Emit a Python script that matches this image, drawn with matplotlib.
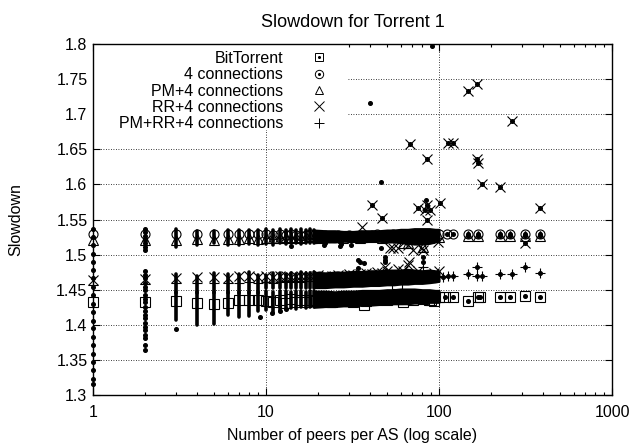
import numpy as np
import matplotlib.pyplot as plt
from matplotlib.lines import Line2D
from matplotlib.patches import Rectangle
from matplotlib.ticker import FixedLocator, FixedFormatter, LogLocator, NullFormatter

plt.rcParams['font.family'] = ['Liberation Sans', 'DejaVu Sans']

# ---- per-AS samples (small dots) ----
# ASes with 1 peer
x1_samples = [1.537, 1.525, 1.513, 1.501, 1.490, 1.478, 1.466, 1.454, 1.442, 1.430,
              1.418, 1.406, 1.395, 1.383, 1.371, 1.359, 1.347, 1.335, 1.323, 1.316]
# ASes with 2 peers
x2_samples = [1.537, 1.532, 1.527, 1.521, 1.516, 1.511, 1.506,
              1.477, 1.471, 1.466, 1.460, 1.454, 1.449, 1.443, 1.437, 1.432, 1.426,
              1.420, 1.414, 1.409, 1.403, 1.397, 1.392, 1.386, 1.381, 1.371, 1.364]

# spread of samples per column, 3..19 peers
col_x = [3, 4, 5, 6, 7, 8, 9, 10, 11, 12, 13, 14, 15, 16, 17, 18, 19]
conn_hi = [1.537, 1.533, 1.533, 1.535, 1.535, 1.535, 1.535, 1.536, 1.535, 1.536, 1.535, 1.536, 1.535, 1.536, 1.535, 1.536, 1.535]
conn_lo = [1.511, 1.514, 1.517, 1.514, 1.513, 1.515, 1.513, 1.515, 1.514, 1.516, 1.515, 1.516, 1.517, 1.515, 1.516, 1.517, 1.516]
rr_hi = [1.473, 1.470, 1.474, 1.472, 1.473, 1.475, 1.471, 1.471, 1.474, 1.474, 1.473, 1.474, 1.473, 1.475, 1.474, 1.474, 1.475]
rr_lo = [1.445, 1.445, 1.445, 1.445, 1.445, 1.445, 1.445, 1.452, 1.452, 1.453, 1.452, 1.453, 1.452, 1.453, 1.453, 1.452, 1.453]
bt_hi = [1.447, 1.447, 1.447, 1.447, 1.447, 1.447, 1.447, 1.448, 1.447, 1.448, 1.448, 1.447, 1.448, 1.448, 1.447, 1.448, 1.448]
bt_lo = [1.407, 1.400, 1.401, 1.414, 1.411, 1.413, 1.419, 1.421, 1.417, 1.419, 1.422, 1.424, 1.423, 1.425, 1.424, 1.426, 1.425]

# spread of samples as bands, 19..100 peers
band_x = [19, 22, 25, 28, 32, 36, 40, 45, 50, 55, 60, 66, 72, 80, 88, 95, 100]
conn_band_hi = [1.535, 1.534, 1.534, 1.533, 1.533, 1.534, 1.534, 1.534, 1.535, 1.535, 1.536, 1.536, 1.537, 1.537, 1.537, 1.536, 1.536]
conn_band_lo = [1.517, 1.518, 1.518, 1.519, 1.519, 1.518, 1.519, 1.519, 1.518, 1.518, 1.517, 1.516, 1.515, 1.515, 1.516, 1.518, 1.520]
rr_band_hi = [1.475, 1.474, 1.475, 1.475, 1.476, 1.476, 1.477, 1.477, 1.478, 1.478, 1.478, 1.479, 1.478, 1.477, 1.478, 1.477, 1.476]
rr_band_lo = [1.453, 1.453, 1.454, 1.454, 1.455, 1.455, 1.456, 1.456, 1.457, 1.457, 1.458, 1.458, 1.459, 1.459, 1.460, 1.461, 1.462]
bt_band_hi = [1.448, 1.448, 1.447, 1.448, 1.448, 1.449, 1.449, 1.449, 1.450, 1.450, 1.451, 1.451, 1.451, 1.450, 1.450, 1.449, 1.449]
bt_band_lo = [1.425, 1.426, 1.426, 1.427, 1.427, 1.428, 1.428, 1.429, 1.429, 1.430, 1.430, 1.430, 1.431, 1.431, 1.432, 1.432, 1.432]

# isolated samples
odd_x = [3, 9.2, 10.8, 12.1, 13.1, 14, 21.5, 22, 26.8, 27, 31, 31, 34, 35, 34, 37,
         40, 46, 46, 48.6, 48.6, 49, 81, 81, 84, 91]
odd_y = [1.394, 1.411, 1.417, 1.419, 1.422, 1.512, 1.513, 1.516, 1.512, 1.515, 1.522, 1.513, 1.493, 1.490, 1.481, 1.488,
         1.716, 1.604, 1.509, 1.497, 1.490, 1.492, 1.497, 1.490, 1.578, 1.797]

# ---- mean slowdown per series ----
mx = [1, 2, 3, 4, 5, 6, 7, 8, 9, 10, 11, 12, 13, 14, 15, 16, 17, 18, 19, 20, 22, 24, 26, 28, 30,
      32, 35, 38, 41, 44, 47, 50, 54, 58, 62, 66, 71, 76, 81, 87, 93, 100]

bt_x = mx + [37, 57, 90, 108, 121, 148, 168, 172, 225, 257, 314, 384]
bt_y = [1.433, 1.433, 1.434, 1.431, 1.429, 1.431, 1.435, 1.435, 1.435, 1.434, 1.432, 1.436, 1.431, 1.437,
        1.433, 1.435, 1.432, 1.436, 1.434, 1.433, 1.437, 1.432, 1.436, 1.434, 1.437, 1.433, 1.436, 1.434,
        1.438, 1.435, 1.437, 1.436, 1.439, 1.437, 1.433, 1.438, 1.436, 1.440, 1.437, 1.436, 1.434, 1.439,
        1.428, 1.458, 1.435, 1.440, 1.440, 1.434, 1.440, 1.440, 1.439, 1.439, 1.441, 1.439]

c4_x = mx + [111, 121, 148, 168, 225, 257, 314, 384]
c4_y = [1.530, 1.530, 1.530, 1.529, 1.530, 1.529, 1.530, 1.529, 1.530, 1.529, 1.528, 1.529, 1.528, 1.529,
        1.528, 1.527, 1.528, 1.529, 1.528, 1.527, 1.528, 1.527, 1.528, 1.527, 1.528, 1.527, 1.528, 1.527,
        1.528, 1.529, 1.527, 1.528, 1.529, 1.528, 1.530, 1.529, 1.528, 1.530, 1.529, 1.528, 1.530, 1.529,
        1.530, 1.530, 1.530, 1.530, 1.530, 1.530, 1.530, 1.530]

pm_x = mx + [62, 148, 168, 225, 257, 314, 384]
pm_y = [1.521, 1.521, 1.521, 1.522, 1.521, 1.522, 1.522, 1.523, 1.522, 1.524, 1.523, 1.524, 1.525, 1.524,
        1.525, 1.524, 1.525, 1.526, 1.525, 1.524, 1.525, 1.526, 1.525, 1.524, 1.526, 1.525, 1.524, 1.526,
        1.525, 1.526, 1.524, 1.525, 1.526, 1.525, 1.524, 1.517, 1.526, 1.525, 1.511, 1.524, 1.526, 1.525,
        1.516, 1.527, 1.527, 1.527, 1.527, 1.527, 1.527]

rr_x = mx + [36, 41, 47, 49, 52, 58, 67, 68, 76, 83, 85, 85, 85, 89, 101, 99, 66, 80,
             113, 120, 148, 165, 166, 168, 177, 225, 263, 314, 384]
rr_y = [1.464, 1.465, 1.466, 1.468, 1.468, 1.467, 1.469, 1.469, 1.468, 1.469, 1.468, 1.470, 1.469, 1.468,
        1.470, 1.469, 1.470, 1.469, 1.470, 1.471, 1.470, 1.469, 1.471, 1.470, 1.472, 1.471, 1.472, 1.474,
        1.473, 1.475, 1.474, 1.476, 1.509, 1.480, 1.477, 1.485, 1.506, 1.476, 1.507, 1.471, 1.474, 1.476,
        1.540, 1.571, 1.552, 1.483, 1.509, 1.509, 1.490, 1.657, 1.566, 1.564, 1.636, 1.571, 1.550, 1.563,
        1.573, 1.518, 1.514, 1.509, 1.659, 1.659, 1.733, 1.743, 1.636, 1.630, 1.600, 1.596, 1.690, 1.517, 1.566]

pmrr_x = mx + [105, 113, 120, 148, 166, 166, 177, 225, 263, 314, 384]
pmrr_y = [1.457, 1.458, 1.459, 1.459, 1.460, 1.459, 1.460, 1.461, 1.460, 1.461, 1.460, 1.461, 1.462, 1.461,
          1.462, 1.461, 1.462, 1.463, 1.462, 1.463, 1.462, 1.463, 1.464, 1.463, 1.464, 1.463, 1.465, 1.464,
          1.465, 1.466, 1.465, 1.466, 1.467, 1.466, 1.467, 1.468, 1.467, 1.468, 1.483, 1.468, 1.469, 1.470,
          1.468, 1.470, 1.470, 1.472, 1.483, 1.470, 1.470, 1.473, 1.473, 1.483, 1.474]

fig = plt.figure(figsize=(6.33, 4.45), dpi=100)
ax = fig.add_axes([93 / 633, 1 - 395 / 445, 519 / 633, 351 / 445])

mk = dict(ls='none', color='k', mfc='none', mew=0.8, zorder=3, clip_on=False)
ax.plot(bt_x, bt_y, marker='s', ms=6.5, **mk)
ax.plot(c4_x, c4_y, marker='o', ms=6.5, **mk)
ax.plot(pm_x, pm_y, marker='^', ms=6.5, **mk)
ax.plot(rr_x, rr_y, marker='x', ms=7, **mk)
ax.plot(pmrr_x, pmrr_y, marker='+', ms=7.5, **mk)

dot = dict(ls='none', marker='o', ms=2.6, color='k', zorder=4, clip_on=False)
ax.plot([1] * len(x1_samples), x1_samples, **dot)
ax.plot([2] * len(x2_samples), x2_samples, **dot)
ax.plot(odd_x, odd_y, **dot)
# ASes that are the only one of their size: sample sits on the mean marker
for xs, ys in [(bt_x, bt_y), (c4_x, c4_y), (pm_x, pm_y), (rr_x, rr_y), (pmrr_x, pmrr_y)]:
    xs, ys = np.array(xs), np.array(ys)
    one = (xs > 100) | (ys > 1.545)
    ax.plot(xs[one], ys[one], **dot)

for lo, hi in [(conn_lo, conn_hi), (rr_lo, rr_hi), (bt_lo, bt_hi)]:
    ax.vlines(col_x, lo, hi, color='k', lw=2.6, capstyle='round', zorder=4)
for lo, hi in [(conn_band_lo, conn_band_hi), (rr_band_lo, rr_band_hi), (bt_band_lo, bt_band_hi)]:
    ax.fill_between(band_x, lo, hi, color='k', lw=1.5, zorder=4)

ax.set_xscale('log')
ax.set_xlim(1, 1000)
ax.set_ylim(1.3, 1.8)
ax.xaxis.set_major_locator(FixedLocator([1, 10, 100, 1000]))
ax.xaxis.set_major_formatter(FixedFormatter(['1', '10', '100', '1000']))
ax.xaxis.set_minor_locator(LogLocator(base=10, subs=range(2, 10)))
ax.xaxis.set_minor_formatter(NullFormatter())
yt = [1.3, 1.35, 1.4, 1.45, 1.5, 1.55, 1.6, 1.65, 1.7, 1.75, 1.8]
ax.yaxis.set_major_locator(FixedLocator(yt))
ax.yaxis.set_major_formatter(FixedFormatter(['%g' % v for v in yt]))
ax.tick_params(which='both', direction='in', top=True, right=True, labelsize=11.5, width=0.8)
ax.tick_params(which='major', length=5)
ax.tick_params(which='minor', length=2.5)
ax.tick_params(axis='x', pad=7)
ax.tick_params(axis='y', pad=4)
ax.grid(True, which='major', color='k', ls=(0, (1, 2)), lw=0.6)
ax.set_axisbelow(True)
for s in ax.spines.values():
    s.set_linewidth(1.0)

ax.set_title('Slowdown for Torrent 1', fontsize=13, pad=12)
ax.set_xlabel('Number of peers per AS (log scale)', fontsize=11.5, labelpad=6)
ax.set_ylabel('Slowdown', fontsize=11.5, labelpad=24)

# key area is opaque over the grid
ax.add_patch(Rectangle((0, 0.755), 0.491, 0.245, transform=ax.transAxes,
                       facecolor='white', edgecolor='none', zorder=1.5))

hs = dict(ls='none', color='k', mfc='none', mew=0.7)
cdot = Line2D([], [], ls='none', marker='o', ms=1.2, color='k')
handles = [(Line2D([], [], marker='s', ms=6, **hs), cdot),
           (Line2D([], [], marker='o', ms=6, **hs), cdot),
           Line2D([], [], marker='^', ms=6, **hs),
           Line2D([], [], marker='x', ms=7, **hs),
           Line2D([], [], marker='+', ms=7.5, **hs)]
labels = ['BitTorrent', '4 connections', 'PM+4 connections', 'RR+4 connections', 'PM+RR+4 connections']
leg = ax.legend(handles, labels, loc='upper right', bbox_to_anchor=((327 - 93) / 519, (395 - 51) / 351),
                frameon=False, markerfirst=False, fontsize=11.5, handlelength=1.0,
                handletextpad=1.75, labelspacing=0.08, borderpad=0, borderaxespad=0)
for col in leg._legend_handle_box.get_children():
    col.align = 'right'
leg.set_zorder(5)

fig.savefig('out.png', dpi=100)
